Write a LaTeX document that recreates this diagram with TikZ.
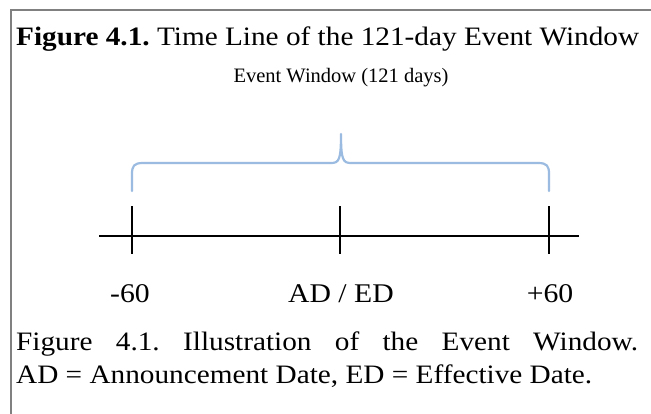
\documentclass[tikz,border=0pt]{standalone}
\usepackage{fontspec}
\setmainfont[FakeStretch=1.1]{Liberation Serif}
\newfontfamily\ewfont{Liberation Serif}
\frenchspacing
\definecolor{bracecol}{RGB}{155,187,225}
\definecolor{framecol}{RGB}{128,128,128}
\begin{document}
\begin{tikzpicture}[x=1pt,y=-1pt,
  lbl/.style={inner sep=0pt,anchor=base,font=\fontsize{27}{30}\selectfont},
  tickln/.style={line width=2.8pt,black},
  axisln/.style={line width=2.8pt,black},
  bracel/.style={line width=2.2pt,bracecol}]
\useasboundingbox (0,0) rectangle (651,414);
\fill[white] (0,0) rectangle (651,414);
% frame
\draw[framecol,line width=1.8pt] (11,414) -- (11,10) -- (651,10);
% title
\node[inner sep=0pt,anchor=base west,font=\fontsize{26.6}{30}\selectfont] (title) at (16,46)
  {\textbf{Figure 4.1.} Time Line of the 121-day Event Window};
% event window label
\node[inner sep=0pt,anchor=base,font=\ewfont\fontsize{20.5}{24}\selectfont] (ew) at (341,83) {Event Window (121 days)};
% axis
\coordinate (a0) at (99,236);
\coordinate (a1) at (579,236);
\coordinate (t1) at (132,236);
\coordinate (t2) at (340,236);
\coordinate (t3) at (549,236);
\draw[axisln] (a0) -- (a1);
\foreach \t in {t1,t2,t3}{
  \draw[tickln] ([yshift=-18pt]\t) -- ([yshift=30pt]\t);
}
% brace
\coordinate (bl) at (132,191);
\coordinate (br) at (549,191);
\coordinate (bt) at (341,134);
\draw[bracel,line cap=round,line join=round]
  (bl) -- (132,174) .. controls (132,166) and (134,163) .. (143,163)
  -- (331,163) .. controls (339,163) and (341,160) .. (bt)
  .. controls (341,160) and (343,163) .. (351,163)
  -- (538,163) .. controls (547,163) and (549,166) .. (549,174) -- (br);
% tick labels
\node[lbl] (lm) at (130,302) {-60};
\node[lbl] (lc) at (341,302) {AD / ED};
\node[lbl] (lp) at (550,302) {+60};
% caption
\node[inner sep=0pt,anchor=north west,text width=622pt,align=justify,
  font=\fontsize{26.6}{33}\selectfont] (cap) at (16,332)
  {Figure 4.1. Illustration of the Event Window.\linebreak AD = Announcement Date, ED = Effective Date.};
\end{tikzpicture}
\end{document}
